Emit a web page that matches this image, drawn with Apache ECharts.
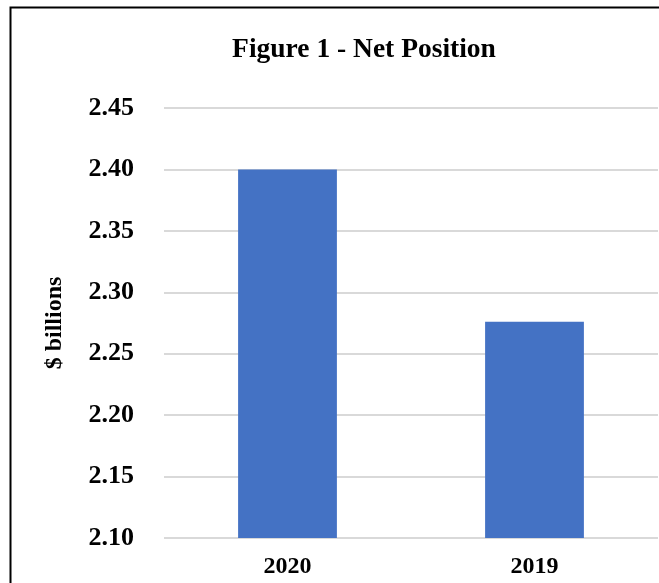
<!DOCTYPE html>
<html>
<head>
<meta charset="utf-8">
<script src="https://cdn.jsdelivr.net/npm/echarts@6/dist/echarts.min.js"></script>
<style>
  html, body { margin: 0; padding: 0; background: #fff; }
  #chart { width: 659px; height: 583px; }
</style>
</head>
<body>
<div id="chart"></div>
<script>
var years = ['2020', '2019'];
var netPosition = [2.40, 2.276];
var yMin = 2.10, yMax = 2.45, yStep = 0.05;

var font = '"Liberation Serif", "Times New Roman", serif';
var chart = echarts.init(document.getElementById('chart'));

chart.setOption({
  animation: false,
  backgroundColor: '#fff',
  title: {
    text: 'Figure 1 - Net Position',
    left: 359, top: 31, textAlign: 'center',
    textStyle: { fontFamily: font, fontSize: 27.5, fontWeight: 'bold', color: '#000' }
  },
  // outer frame, right and bottom edges fall outside the picture
  graphic: [{
    type: 'rect', left: 8, top: 5,
    shape: { width: 800, height: 800 },
    style: { fill: 'none', stroke: '#000', lineWidth: 2 }
  }],
  grid: { left: 164, right: 1, top: 108, bottom: 45 },
  xAxis: {
    type: 'category',
    data: years,
    axisLine: { show: false },
    axisTick: { show: false },
    axisLabel: { margin: 17, fontFamily: font, fontSize: 24, fontWeight: 'bold', color: '#000' }
  },
  yAxis: {
    type: 'value',
    min: yMin, max: yMax, interval: yStep,
    name: '$ billions',
    nameLocation: 'middle',
    nameGap: 97,
    nameRotate: 90,
    nameTextStyle: { fontFamily: font, fontSize: 24, fontWeight: 'bold', color: '#000' },
    axisLine: { show: false },
    axisTick: { show: false },
    axisLabel: {
      margin: 30,
      formatter: function (v) { return v.toFixed(2); },
      fontFamily: font, fontSize: 26, fontWeight: 'bold', color: '#000'
    },
    splitLine: { lineStyle: { color: '#d9d9d9', width: 2 } }
  },
  series: [{
    type: 'bar',
    data: netPosition,
    barWidth: '40%',
    itemStyle: { color: '#4472c4' }
  }]
});
</script>
</body>
</html>
